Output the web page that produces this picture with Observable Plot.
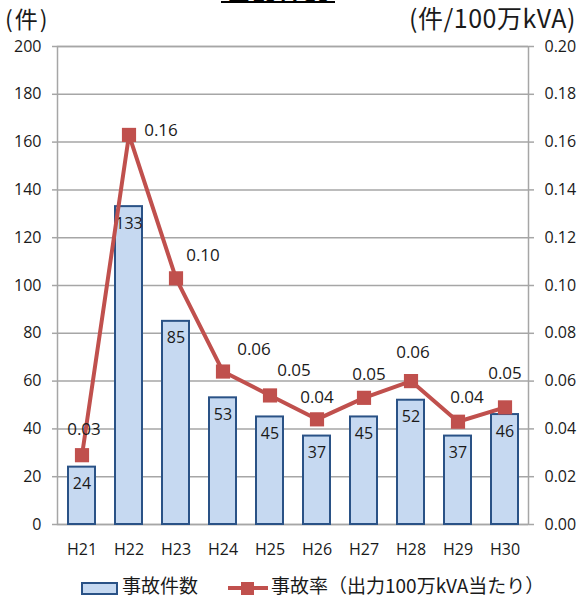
<!DOCTYPE html>
<html>
<head>
<meta charset="utf-8">
<script src="https://cdn.jsdelivr.net/npm/d3@7"></script>
<script src="https://cdn.jsdelivr.net/npm/@observablehq/plot@0.6"></script>
<style>
  html, body { margin: 0; padding: 0; background: #fff; }
  #wrap { position: relative; width: 582px; height: 597px; overflow: hidden; font-family: "Open Sans", "Noto Sans CJK JP", sans-serif; color: #1a1a1a; }
  .jp { font-family: "Noto Sans CJK JP", sans-serif; }
  #title { position: absolute; left: 221px; top: -30px; width: 114px; height: 33px; border-bottom: 2px solid #000; overflow: hidden; text-align: center; font-weight: bold; font-size: 26px; line-height: 26px; padding-top: 9px; box-sizing: border-box; color: #000; }
  #unitL { position: absolute; left: 5px; top: 3px; font-size: 23px; line-height: 30px; letter-spacing: 2px; white-space: nowrap; }
  #unitR { position: absolute; left: 409px; top: 2px; font-size: 25px; line-height: 31px; letter-spacing: 0.5px; white-space: nowrap; }
  #chart { position: absolute; left: 0; top: 30px; }
  #legend { position: absolute; left: 0; top: 573px; width: 582px; height: 24px; }
  .lg { position: absolute; top: 0; font-size: 19px; line-height: 24px; white-space: nowrap; }
</style>
</head>
<body>
<div id="wrap">
  <div id="title" class="jp">事故件数</div>
  <div id="unitL" class="jp">(件)</div>
  <div id="unitR" class="jp">(件/100万kVA)</div>
  <div id="chart"></div>
  <div id="legend">
    <svg width="582" height="24" style="position:absolute;left:0;top:0">
      <rect x="82" y="10" width="35" height="11" fill="#c6d9f1" stroke="#2a5286" stroke-width="2"></rect>
      <line x1="228" y1="15" x2="268" y2="15" stroke="#c0504d" stroke-width="4"></line>
      <rect x="241" y="9" width="13" height="13" fill="#c0504d"></rect>
    </svg>
    <div class="lg jp" style="left:122px">事故件数</div>
    <div class="lg jp" style="left:271px">事故率（出力100万kVA当たり）</div>
  </div>
</div>
<script>
// ---- data ----
const years = ["H21", "H22", "H23", "H24", "H25", "H26", "H27", "H28", "H29", "H30"];
const counts = [24, 133, 85, 53, 45, 37, 45, 52, 37, 46];
const rates = [0.029, 0.163, 0.103, 0.064, 0.054, 0.044, 0.053, 0.060, 0.043, 0.049];
const countTicks = [0, 20, 40, 60, 80, 100, 120, 140, 160, 180, 200];

// label offsets (layout only) for the rate data labels
const rateLabelOffsets = [[2, -26], [32, -4], [27, -23], [31, -22], [24, -25], [0, -22], [5, -23], [2, -29], [9, -24], [0, -34]];

const rows = years.map((y, i) => ({year: y, count: counts[i], rate: rates[i]}));
const RATE_SCALE = 1000; // 0.20 -> 200 on the shared y scale

const red = "#c0504d";
const gridColor = "#a6a6a6";

const rateLabelMarks = rows.map((d, i) => Plot.text([d], {
  x: "year",
  y: (r) => r.rate * RATE_SCALE,
  text: (r) => r.rate.toFixed(2),
  dx: rateLabelOffsets[i][0],
  dy: rateLabelOffsets[i][1],
  fontSize: 17,
  fill: "#1a1a1a"
}));

const chart = Plot.plot({
  width: 582,
  height: 535,
  marginLeft: 57,
  marginRight: 54,
  marginTop: 16,
  marginBottom: 41,
  style: {fontFamily: "'Open Sans', 'Noto Sans CJK JP', sans-serif", fontSize: "16px", color: "#1a1a1a", background: "transparent"},
  x: {domain: years, paddingInner: 0.43, paddingOuter: 0.215, label: null},
  y: {domain: [0, 200], label: null},
  marks: [
    Plot.gridY(countTicks, {stroke: gridColor, strokeOpacity: 1, strokeWidth: 1.5}),
    Plot.frame({stroke: gridColor, strokeWidth: 1.5}),
    Plot.axisY(countTicks, {anchor: "left", tickSize: 5, tickPadding: 11, stroke: gridColor, strokeWidth: 1.5, fill: "#1a1a1a", fontSize: 16, label: null}),
    Plot.axisY(countTicks, {anchor: "right", tickSize: 5, tickPadding: 11, stroke: gridColor, strokeWidth: 1.5, fill: "#1a1a1a", fontSize: 16, tickFormat: (d) => (d / RATE_SCALE).toFixed(2), label: null}),
    Plot.axisX({tickSize: 0, tickPadding: 19, fill: "#1a1a1a", fontSize: 16, label: null}),
    Plot.barY(rows, {x: "year", y: "count", fill: "#c6d9f1", stroke: "#2a5286", strokeWidth: 2}),
    Plot.text(rows, {x: "year", y: "count", text: (d) => String(d.count), dy: 17, fontSize: 16, fill: "#1a1a1a"}),
    Plot.line(rows, {x: "year", y: (d) => d.rate * RATE_SCALE, stroke: red, strokeWidth: 4}),
    Plot.dot(rows, {x: "year", y: (d) => d.rate * RATE_SCALE, symbol: "square", r: 8, fill: red, stroke: "none"}),
    ...rateLabelMarks
  ]
});
document.getElementById("chart").appendChild(chart);
</script>
</body>
</html>
